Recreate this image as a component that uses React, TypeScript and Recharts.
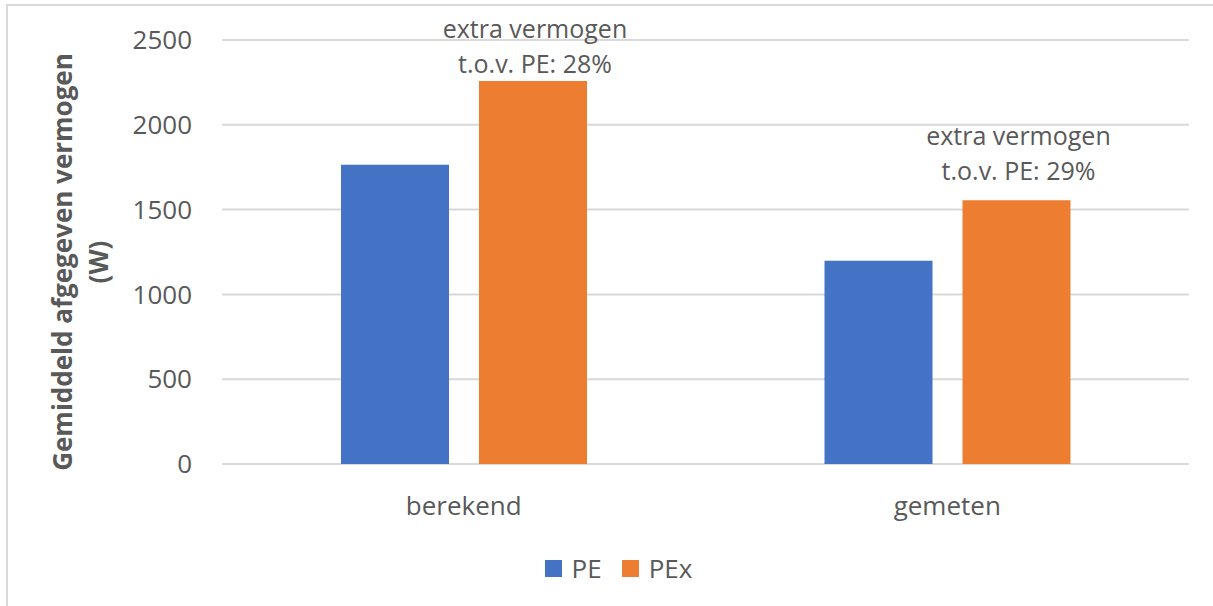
import { Bar, BarChart, CartesianGrid, LabelList, Legend, XAxis, YAxis } from "recharts";

const categories = ["berekend", "gemeten"];
const peValues = [1765, 1198];
const pexValues = [2258, 1555];
const extraPct = ["28%", "29%"];
const yTicks = [0, 500, 1000, 1500, 2000, 2500];

const data = categories.map((name, i) => ({
  name,
  PE: peValues[i],
  PEx: pexValues[i],
  pct: extraPct[i],
}));

const FONT = "'Open Sans', sans-serif";
const TEXT = "#595959";
const BLUE = "#4472C4";
const ORANGE = "#ED7D31";

// labels were nudged by hand in the original, so lift differs per bar
const labelLift = [8, 20];

function ExtraLabel(props: any) {
  const { x, y, width, index } = props;
  const cx = x + width / 2 + 2;
  const lift = labelLift[index] ?? 10;
  return (
    <g fontFamily={FONT} fontSize={25} fill={TEXT}>
      <text x={cx} y={y - lift - 35} textAnchor="middle">
        extra vermogen
      </text>
      <text x={cx} y={y - lift} textAnchor="middle">
        t.o.v. PE: {data[index].pct}
      </text>
    </g>
  );
}

function AxisTitle() {
  return (
    <g fontFamily={FONT} fontSize={26} fontWeight="bold" fill={TEXT}>
      <text transform="rotate(-90)" x={-262} y={72} textAnchor="middle">
        Gemiddeld afgegeven vermogen
      </text>
      <text transform="rotate(-90)" x={-262} y={108} textAnchor="middle">
        (W)
      </text>
    </g>
  );
}

function LegendContent() {
  const items = [
    { label: "PE", color: BLUE },
    { label: "PEx", color: ORANGE },
  ];
  return (
    <div style={{ display: "flex", justifyContent: "center", gap: 20, fontFamily: FONT, fontSize: 26, color: TEXT }}>
      {items.map((it) => (
        <div key={it.label} style={{ display: "flex", alignItems: "center", gap: 10 }}>
          <span style={{ width: 17, height: 17, background: it.color, display: "inline-block" }} />
          <span style={{ lineHeight: "30px" }}>{it.label}</span>
        </div>
      ))}
    </div>
  );
}

export default function App() {
  return (
    <div style={{ position: "absolute", left: 0, top: 0, width: 1213, height: 606, background: "#fff", overflow: "hidden" }}>
      <div
        style={{
          position: "absolute",
          left: 6,
          top: 4,
          width: 1300,
          height: 700,
          borderLeft: "2px solid #d9d9d9",
          borderTop: "2px solid #d9d9d9",
        }}
      />
      <BarChart
        width={1213}
        height={606}
        data={data}
        margin={{ top: 40, right: 24, bottom: 82, left: 0 }}
        barSize={108}
        barGap={30}
        style={{ position: "absolute", left: 0, top: 0 }}
      >
        <CartesianGrid vertical={false} stroke="#d9d9d9" strokeWidth={2} />
        <XAxis
          dataKey="name"
          height={60}
          axisLine={false}
          tickLine={false}
          tickMargin={27}
          tick={{ fontFamily: FONT, fontSize: 26, fill: TEXT }}
        />
        <YAxis
          width={222}
          domain={[0, 2500]}
          ticks={yTicks}
          axisLine={false}
          tickLine={false}
          tickMargin={24}
          tick={{ fontFamily: FONT, fontSize: 26, fill: TEXT }}
          label={{ content: () => <AxisTitle /> }}
        />
        <Legend
          layout="horizontal"
          verticalAlign="middle"
          align="center"
          content={() => <LegendContent />}
          wrapperStyle={{ top: 553, left: 12, width: 1213 }}
        />
        <Bar dataKey="PE" fill={BLUE} isAnimationActive={false} />
        <Bar dataKey="PEx" fill={ORANGE} isAnimationActive={false}>
          <LabelList dataKey="PEx" content={(p: any) => <ExtraLabel {...p} />} />
        </Bar>
      </BarChart>
    </div>
  );
}
